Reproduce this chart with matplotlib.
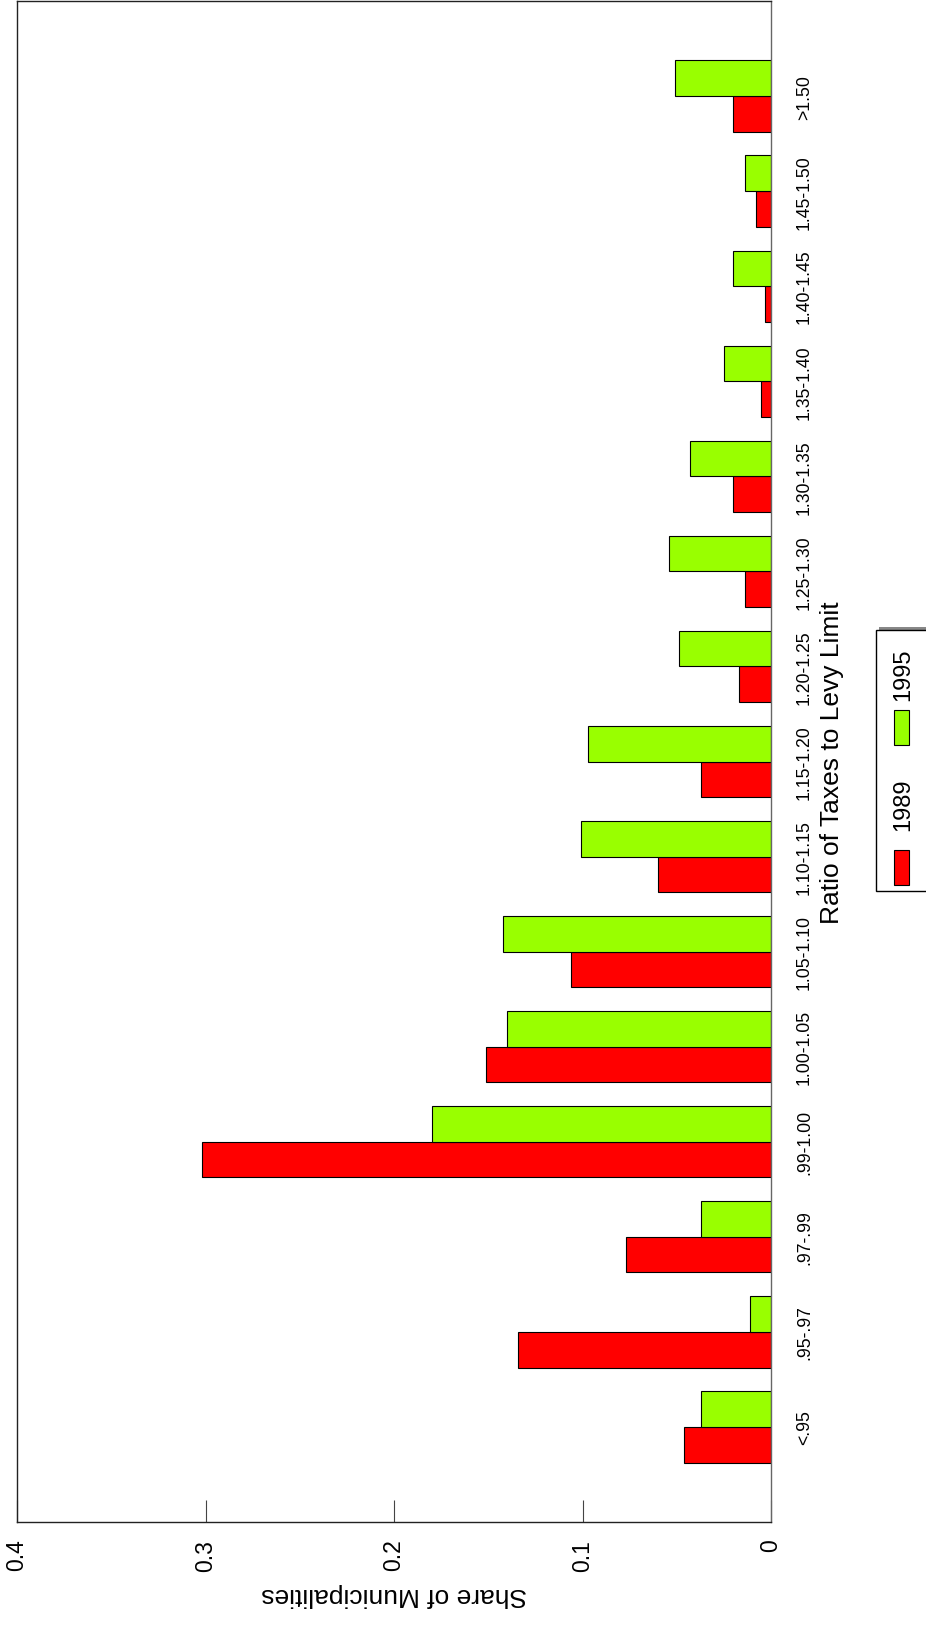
import numpy as np
import matplotlib.pyplot as plt
from matplotlib.patches import Rectangle

plt.rcParams['font.family'] = ['Liberation Sans', 'DejaVu Sans']

# data (the chart is shown turned a quarter turn to the left)
categories = ['<.95', '.95-.97', '.97-.99', '.99-1.00', '1.00-1.05', '1.05-1.10',
              '1.10-1.15', '1.15-1.20', '1.20-1.25', '1.25-1.30', '1.30-1.35',
              '1.35-1.40', '1.40-1.45', '1.45-1.50', '>1.50']
share_1989 = [0.046, 0.134, 0.077, 0.302, 0.151, 0.106, 0.060, 0.037,
              0.017, 0.014, 0.020, 0.0055, 0.003, 0.008, 0.020]
share_1995 = [0.037, 0.011, 0.037, 0.180, 0.140, 0.142, 0.101, 0.097,
              0.049, 0.054, 0.043, 0.025, 0.020, 0.014, 0.051]
xticks = [0, 0.1, 0.2, 0.3, 0.4]
xtick_labels = ['0', '0.1', '0.2', '0.3', '0.4']

W, H = 926, 1633
fig = plt.figure(figsize=(W / 100, H / 100), dpi=100)


def fx(px):
    return px / W


def fy(py):
    return 1 - py / H


ax = fig.add_axes([fx(17), fy(1523), fx(771) - fx(17), fy(2) - fy(1523)])

pos = np.arange(1, len(categories) + 1)
w = 0.375
ax.barh(pos - w / 2, share_1989, height=w, color='#ff0000',
        edgecolor='black', linewidth=0.8)
ax.barh(pos + w / 2, share_1995, height=w, color='#99ff00',
        edgecolor='black', linewidth=0.8)

ax.set_xlim(0.4, 0)
ax.set_ylim(0, 16)

ax.set_xticks(xticks)
ax.set_xticklabels(xtick_labels, rotation=90, fontsize=16.5)
ax.tick_params(axis='x', direction='in', length=16, pad=12, width=0.8, color='#444444')

ax.yaxis.tick_right()
ax.set_yticks(pos)
ax.set_yticklabels(categories, rotation=90, fontsize=12.7, va='center')
ax.tick_params(axis='y', length=0, pad=18)

ax.yaxis.set_label_position('right')
ax.set_ylabel('Ratio of Taxes to Levy Limit', rotation=90, fontsize=19, labelpad=5)
ax.set_xlabel('Share of Municipalities', rotation=180, fontsize=19, va='top', labelpad=8)

for side in ['left', 'top', 'bottom']:
    ax.spines[side].set_color('#222222')
    ax.spines[side].set_linewidth(1.0)
ax.spines['right'].set_color('#666666')
ax.spines['right'].set_linewidth(1.0)

# legend, drawn turned like the rest
shadow = Rectangle((fx(879), fy(889)), fx(960) - fx(879), fy(628) - fy(889),
                   transform=fig.transFigure, facecolor='#888888', edgecolor='none')
box = Rectangle((fx(876), fy(892)), fx(960) - fx(876), fy(631) - fy(892),
                transform=fig.transFigure, facecolor='white', edgecolor='black', linewidth=1.0)
fig.patches.extend([shadow, box])
for color, label, py, ty in [('#ff0000', '1989', 851, 805), ('#99ff00', '1995', 711, 675)]:
    fig.patches.append(Rectangle((fx(894), fy(py + 35)), fx(909) - fx(894), fy(py) - fy(py + 35),
                                 transform=fig.transFigure, facecolor=color,
                                 edgecolor='black', linewidth=0.8))
    fig.text(fx(903), fy(ty), label, rotation=90, fontsize=17, ha='center', va='center')

fig.savefig('out.png', dpi=100)
